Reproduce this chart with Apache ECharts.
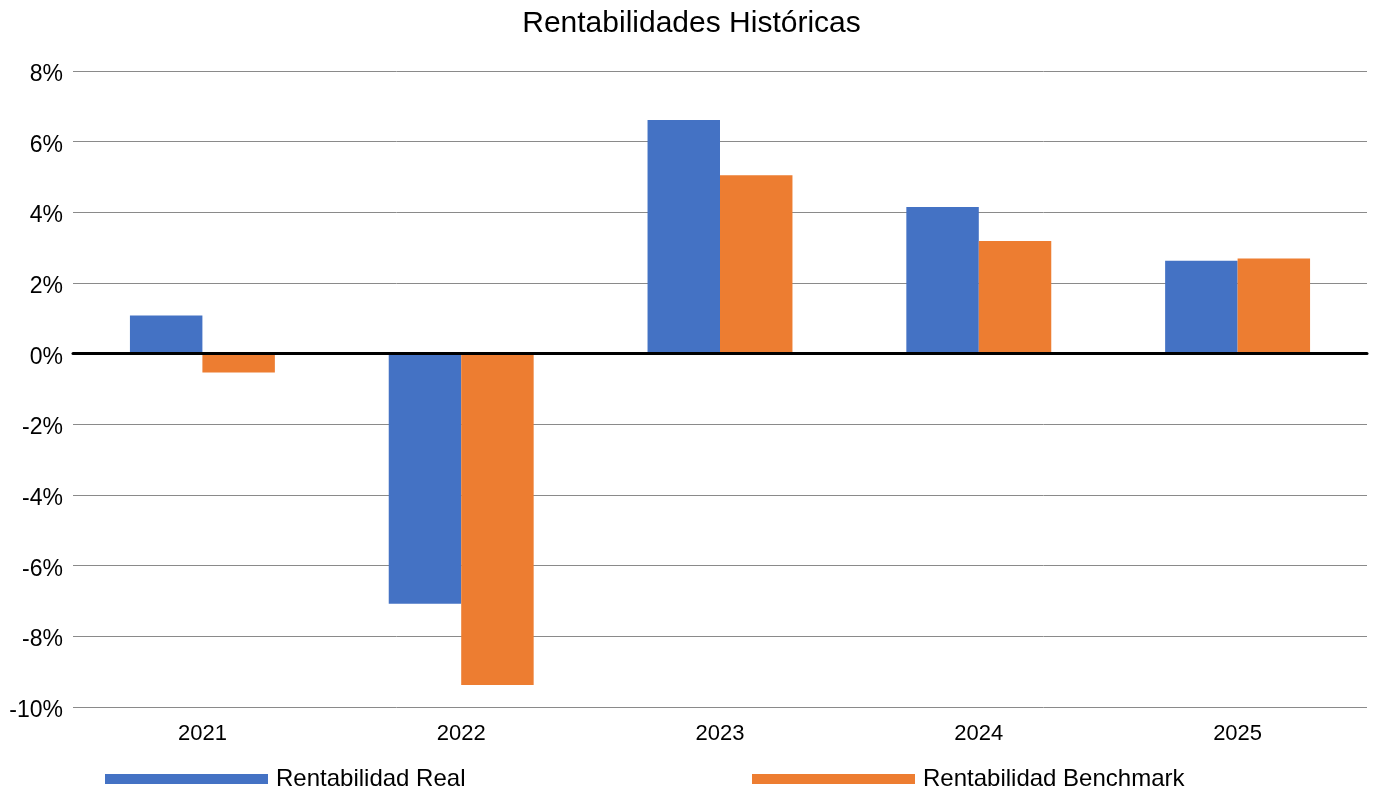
<!DOCTYPE html>
<html>
<head>
<meta charset="utf-8">
<script src="https://cdn.jsdelivr.net/npm/echarts@6/dist/echarts.min.js"></script>
<style>html,body{margin:0;padding:0;background:#fff}#c{width:1383px;height:794px}</style>
</head>
<body>
<div id="c"></div>
<script>
const categories = ['2021', '2022', '2023', '2024', '2025'];
const realValues = [1.08, -7.08, 6.61, 4.15, 2.63];
const benchmarkValues = [-0.53, -9.38, 5.05, 3.19, 2.69];
const yTicks = { min: -10, max: 8, interval: 2 };
const seriesNames = ['Rentabilidad Real', 'Rentabilidad Benchmark'];

const font = '"Liberation Sans", Arial, sans-serif';
const chart = echarts.init(document.getElementById('c'));
chart.setOption({
  animation: false,
  title: {
    text: 'Rentabilidades Históricas',
    left: 'center',
    top: 9,
    padding: 0,
    textStyle: { fontFamily: font, fontSize: 30, fontWeight: 'normal', color: '#000' }
  },
  legend: [
    {
      data: [seriesNames[0]], left: 105, top: 767, padding: 0,
      itemWidth: 163, itemHeight: 10, icon: 'rect',
      textStyle: { fontFamily: font, fontSize: 24, color: '#000', padding: [0, 0, 0, 3] }
    },
    {
      data: [seriesNames[1]], left: 752, top: 767, padding: 0,
      itemWidth: 163, itemHeight: 10, icon: 'rect',
      textStyle: { fontFamily: font, fontSize: 24, color: '#000', padding: [0, 0, 0, 3] }
    }
  ],
  grid: { left: 73, right: 16, top: 71, bottom: 87, containLabel: false },
  xAxis: {
    type: 'category',
    data: categories,
    axisTick: { show: false },
    axisLine: { show: true, onZero: true, lineStyle: { color: '#000', width: 3 } },
    axisLabel: { fontFamily: font, fontSize: 22, color: '#000', margin: 16 },
    z: 10
  },
  yAxis: {
    type: 'value',
    min: yTicks.min, max: yTicks.max, interval: yTicks.interval,
    axisLine: { show: false },
    axisTick: { show: false },
    axisLabel: {
      fontFamily: font, fontSize: 23, color: '#000', margin: 10,
      formatter: v => '{a|' + v + '%}',
      rich: { a: { fontFamily: font, fontSize: 23, color: '#000', lineHeight: 24, padding: [7, 0, 0, 0] } }
    },
    splitLine: { show: true, lineStyle: { color: '#8a8a8a', width: 1 } }
  },
  series: [
    {
      name: seriesNames[0], type: 'bar', data: realValues,
      itemStyle: { color: '#4472C4' },
      barGap: '0%', barCategoryGap: '44%'
    },
    {
      name: seriesNames[1], type: 'bar', data: benchmarkValues,
      itemStyle: { color: '#ED7D31' },
      barGap: '0%', barCategoryGap: '44%'
    }
  ]
});
</script>
</body>
</html>
